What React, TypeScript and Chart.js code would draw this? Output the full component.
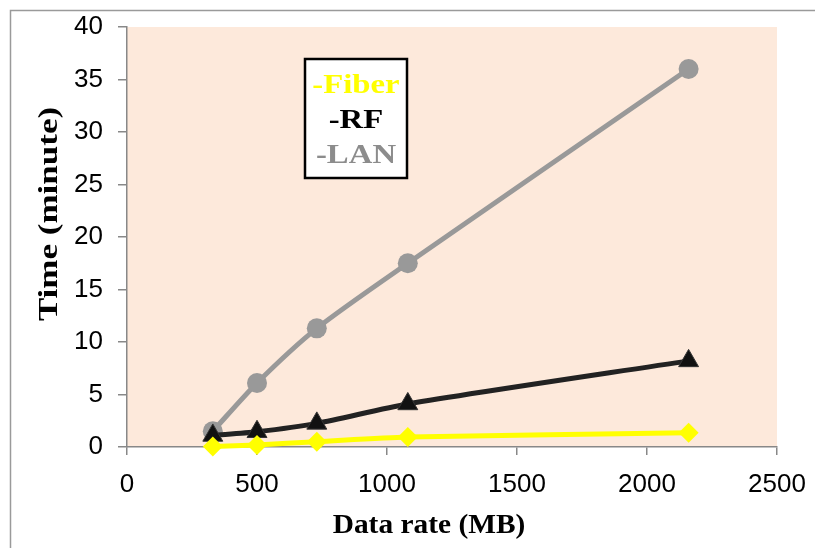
import React, { useEffect, useRef } from "react";
import { Chart, registerables } from "chart.js";

Chart.register(...registerables);

const dataRate = [330, 500, 730, 1080, 2160];
const fiberTime = [0.05, 0.2, 0.5, 0.95, 1.35];
const rfTime = [1.1, 1.45, 2.25, 4.1, 8.2];
const lanTime = [1.5, 6.1, 11.3, 17.5, 36];

const legendItems = [
  { label: "-Fiber", color: "#FFFF00" },
  { label: "-RF", color: "#000000" },
  { label: "-LAN", color: "#8C8C8C" },
];

const xTitle = "Data rate (MB)";
const yTitle = "Time (minute)";

function drawStretched(ctx: CanvasRenderingContext2D, text: string, x: number, y: number, font: string, color: string, sx: number, rot: number) {
  ctx.save();
  ctx.translate(x, y);
  ctx.rotate(rot);
  ctx.scale(sx, 1);
  ctx.font = font;
  ctx.fillStyle = color;
  ctx.textAlign = "center";
  ctx.textBaseline = "middle";
  ctx.fillText(text, 0, 0);
  ctx.restore();
}

const decorPlugin = {
  id: "decor",
  beforeDraw(chart: any) {
    const { ctx, chartArea } = chart;
    ctx.save();
    ctx.fillStyle = "#FDE9DB";
    ctx.fillRect(chartArea.left, chartArea.top, chartArea.right - chartArea.left, chartArea.bottom - chartArea.top);
    ctx.strokeStyle = "#9A9A9A";
    ctx.lineWidth = 1.5;
    ctx.beginPath();
    ctx.moveTo(10.5, 560);
    ctx.lineTo(10.5, 10.5);
    ctx.lineTo(830, 10.5);
    ctx.stroke();
    ctx.restore();
  },
  afterDraw(chart: any) {
    const { ctx } = chart;
    drawStretched(ctx, xTitle, 429, 526, "bold 28px 'Liberation Serif'", "#000", 1.05, 0);
    drawStretched(ctx, yTitle, 50, 214, "bold 28px 'Liberation Serif'", "#000", 1.25, -Math.PI / 2);
    ctx.save();
    ctx.fillStyle = "#FFFFFF";
    ctx.fillRect(305, 59, 102, 119);
    ctx.strokeStyle = "#000";
    ctx.lineWidth = 2.5;
    ctx.strokeRect(305, 59, 102, 119);
    ctx.restore();
    legendItems.forEach((it, i) => {
      drawStretched(ctx, it.label, 356, 86 + i * 35, "bold 28px 'Liberation Serif'", it.color, 1.17, 0);
    });
  },
};

export default function App() {
  const ref = useRef<HTMLCanvasElement>(null);
  useEffect(() => {
    if (!ref.current) return;
    const mk = (vals: number[]) => dataRate.map((x, i) => ({ x, y: vals[i] }));
    const chart = new Chart(ref.current, {
      type: "line",
      data: {
        datasets: [
          {
            label: "Fiber",
            data: mk(fiberTime),
            borderColor: "#FFFF00",
            backgroundColor: "#FFFF00",
            borderWidth: 5,
            pointStyle: "rectRot",
            pointRadius: 10,
            pointBorderWidth: 0,
            tension: 0.25,
            clip: false,
          },
          {
            label: "RF",
            data: mk(rfTime),
            borderColor: "#222222",
            backgroundColor: "#111111",
            borderWidth: 5,
            pointStyle: "triangle",
            pointRadius: 11.5,
            pointBorderColor: "#333333",
            pointBorderWidth: 1,
            tension: 0.25,
            clip: false,
          },
          {
            label: "LAN",
            data: mk(lanTime),
            borderColor: "#999999",
            backgroundColor: "#999999",
            borderWidth: 5,
            pointStyle: "circle",
            pointRadius: 10,
            pointBorderWidth: 0,
            tension: 0.25,
            clip: false,
          },
        ],
      },
      options: {
        animation: false,
        responsive: false,
        layout: { padding: { left: 0, top: 27, right: 38, bottom: 0 } },
        plugins: { legend: { display: false }, tooltip: { enabled: false } },
        scales: {
          x: {
            type: "linear",
            min: 0,
            max: 2500,
            afterFit: (s: any) => { s.height = 101; s.paddingLeft = 0; s.paddingRight = 0; },
            ticks: { stepSize: 500, color: "#000", font: { family: "'Liberation Sans'", size: 26 }, padding: 14, callback: (v: any) => String(v) },
            grid: { drawOnChartArea: false, drawTicks: true, tickLength: 8, color: "#888", lineWidth: 1.5 },
            border: { display: true, color: "#888", width: 1.5 },
          },
          y: {
            min: 0,
            max: 40,
            afterFit: (s: any) => { s.width = 127; s.paddingTop = 0; s.paddingBottom = 0; },
            ticks: { stepSize: 5, color: "#000", font: { family: "'Liberation Sans'", size: 26 }, padding: 15, callback: (v: any) => String(v) },
            grid: { drawOnChartArea: false, drawTicks: true, tickLength: 9, color: "#888", lineWidth: 1.5 },
            border: { display: true, color: "#888", width: 1.5 },
          },
        },
      },
      plugins: [decorPlugin],
    } as any);
    return () => chart.destroy();
  }, []);
  return (
    <div style={{ position: "absolute", left: 0, top: 0, width: 815, height: 548 }}>
      <canvas ref={ref} width={815} height={548} />
    </div>
  );
}
